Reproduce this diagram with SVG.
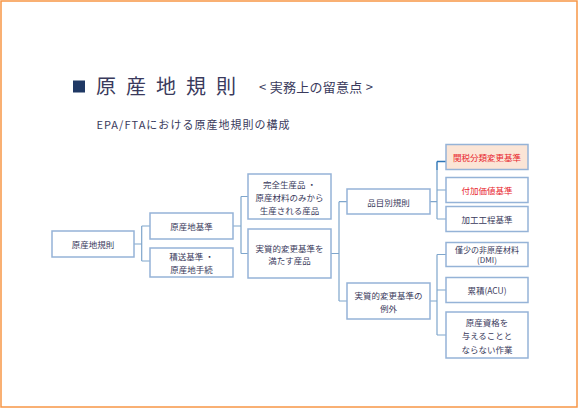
<svg xmlns="http://www.w3.org/2000/svg" width="578" height="408" viewBox="0 0 578 408">
<style>
.box{fill:#ffffff;stroke:#95b3d7;stroke-width:1.5}
.hl{fill:#fbe5d6;stroke:#95b3d7;stroke-width:1.5}
.t{font-family:"Noto Sans CJK JP","Noto Sans",sans-serif;font-size:8.5px;fill:#3a3a5c;text-anchor:middle;dominant-baseline:central}
.s{font-size:8px}
.r{fill:#e8262e}
.c{fill:none;stroke:#7fa6cc;stroke-width:1.2}
.cd{fill:none;stroke:#2e75b6;stroke-width:1.4}
.h{font-family:"Noto Sans CJK JP",sans-serif;fill:#3a3a5c}
</style>
<rect x="1" y="1" width="576" height="406" fill="#ffffff" stroke="#f79646" stroke-width="1.5"/>
<g id="title">
<rect x="73" y="80.5" width="12" height="12" fill="#1f3864"/>
<text class="h" x="96" y="94" font-size="20" textLength="140" lengthAdjust="spacing">原産地規則</text>
<text class="h" x="259" y="92" font-size="13" textLength="114" lengthAdjust="spacing">&lt;  実務上の留意点 &gt;</text>
<text class="h" x="96.5" y="129" font-size="11" textLength="193" lengthAdjust="spacing">EPA/FTAにおける原産地規則の構成</text>
</g>
<g id="connectors">
<path class="c" d="M134,244 H141.7 M141.7,226 V261 M141.7,226 H150 M141.7,261 H150"/>
<path class="c" d="M233,226 H241 M241,196.5 V253.5 M241,196.5 H248 M241,253.5 H248"/>
<path class="c" d="M331,253.5 H339 M339,201.7 V301 M339,201.7 H347 M339,301 H347"/>
<path class="c" d="M430,201.7 H437 M437,170 V219 M437,190 H446 M437,219 H446"/>
<path class="cd" d="M437,161.5 V170 M437,161.5 H446"/>
<path class="c" d="M430,301 H437 M437,254.5 V335 M437,254.5 H446 M437,290 H446 M437,335 H446"/>
</g>
<g id="n1"><rect class="box" x="52" y="231" width="82" height="26"/><text class="t" x="93" y="244">原産地規則</text></g>
<g id="n2"><rect class="box" x="150" y="213" width="83" height="26"/><text class="t" x="191.5" y="226">原産地基準</text></g>
<g id="n3"><rect class="box" x="150" y="248" width="83" height="29"/><text class="t" x="191.5" y="255.5">積送基準 ・</text><text class="t" x="191.5" y="268.5">原産地手続</text></g>
<g id="n4"><rect class="box" x="248" y="174" width="83" height="45"/><text class="t" x="289.5" y="183.5">完全生産品 ・</text><text class="t" x="289.5" y="196.5">原産材料のみから</text><text class="t" x="289.5" y="209.5">生産される産品</text></g>
<g id="n5"><rect class="box" x="248" y="229" width="83" height="49"/><text class="t" x="289.5" y="247.5">実質的変更基準を</text><text class="t" x="289.5" y="260">満たす産品</text></g>
<g id="n6"><rect class="box" x="347" y="189" width="83" height="25"/><text class="t" x="388.5" y="201.7">品目別規則</text></g>
<g id="n7"><rect class="box" x="347" y="283" width="83" height="36"/><text class="t" x="388.5" y="295">実質的変更基準の</text><text class="t" x="388.5" y="308">例外</text></g>
<g id="n8"><rect class="hl" x="446" y="144.5" width="82" height="25"/><text class="t r" x="487" y="157">関税分類変更基準</text></g>
<g id="n9"><rect class="box" x="446" y="177.5" width="82" height="25"/><text class="t r" x="487" y="190">付加価値基準</text></g>
<g id="n10"><rect class="box" x="446" y="206.5" width="82" height="25"/><text class="t" x="487" y="219">加工工程基準</text></g>
<g id="n11"><rect class="box" x="446" y="242.5" width="82" height="24"/><text class="t s" x="487" y="249.5">僅少の非原産材料</text><text class="t s" x="487" y="259.5">(DMI)</text></g>
<g id="n12"><rect class="box" x="446" y="277.5" width="82" height="25"/><text class="t" x="487" y="290">累積(ACU)</text></g>
<g id="n13"><rect class="box" x="446" y="312" width="82" height="46"/><text class="t" x="487" y="321.5">原産資格を</text><text class="t" x="487" y="335">与えることと</text><text class="t" x="487" y="348.5">ならない作業</text></g>
</svg>
